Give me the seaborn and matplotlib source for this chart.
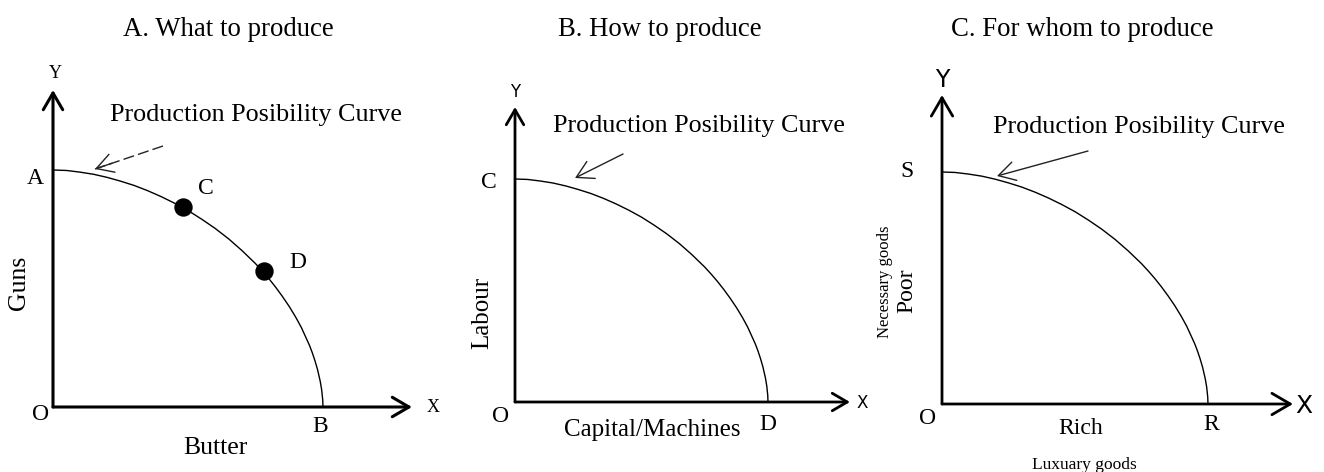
import matplotlib
matplotlib.use("Agg")
import matplotlib.pyplot as plt
import seaborn as sns
import pandas as pd

# ---------------- data (normalised PPC) ----------------
ppc_x = [0.0, 0.05, 0.10, 0.15, 0.20, 0.25, 0.30, 0.35, 0.40, 0.45, 0.50,
         0.55, 0.60, 0.65, 0.70, 0.75, 0.775, 0.80, 0.825, 0.85, 0.875, 0.90,
         0.92, 0.95, 0.96, 0.97, 0.98, 0.99, 0.995, 0.999, 1.0]
ppc_y = [1.0, 0.998, 0.991, 0.982, 0.969, 0.953, 0.935, 0.913, 0.888, 0.860, 0.829,
         0.793, 0.754, 0.710, 0.660, 0.605, 0.574, 0.541, 0.505, 0.466, 0.424, 0.377,
         0.335, 0.260, 0.230, 0.196, 0.157, 0.107, 0.073, 0.030, 0.0]
point_x = [0.48, 0.78]
point_y = [0.844, 0.574]
point_labels = ["C", "D"]

titles = ["A. What to produce", "B. How to produce", "C. For whom to produce"]
curve_label = "Production Posibility Curve"

sns.set_style("white")
plt.rcParams["font.family"] = ["Liberation Serif", "DejaVu Serif"]
plt.rcParams["text.color"] = "black"

W, H = 1324, 472
fig = plt.figure(figsize=(W / 100, H / 100), dpi=100)
fig.patch.set_facecolor("white")


def fx(x):
    return x / W


def fy(y):
    return 1 - y / H


def ftext(x, y, s, size, **kw):
    fig.text(fx(x), fy(y), s, fontsize=size, ha="center", va="center",
             color="black", **kw)


def make_panel(ox, oy, x_end, y_top, x_int, y_int, axis_lw, head):
    ax = fig.add_axes([fx(ox), 1 - oy / H, (x_end - ox) / W, (oy - y_top) / H])
    ax.set_xlim(0, (x_end - ox) / (x_int - ox))
    ax.set_ylim(0, (oy - y_top) / (oy - y_int))
    ax.axis("off")
    df = pd.DataFrame({"x": ppc_x, "y": ppc_y})
    sns.lineplot(data=df, x="x", y="y", ax=ax, sort=False, estimator=None,
                 color="black", linewidth=1.0)
    for xy in [(1, 0), (0, 1)]:
        ax.annotate("", xy=xy, xytext=(0, 0), xycoords="axes fraction",
                    textcoords="axes fraction",
                    arrowprops=dict(arrowstyle="->,head_length=0.6,head_width=0.35",
                                    lw=axis_lw, color="black", shrinkA=0, shrinkB=0,
                                    mutation_scale=head))
    return ax


def pointer(x0, y0, x1, y1, dashed=False):
    if dashed:
        fig.add_artist(matplotlib.lines.Line2D(
            [fx(x0), fx(x1)], [fy(y0), fy(y1)], transform=fig.transFigure,
            lw=1.0, color="#222222", linestyle=(0, (8, 3))))
        dx, dy = x0 - x1, y0 - y1
        x0, y0 = x1 + 0.25 * dx, y1 + 0.25 * dy
    fig.add_artist(matplotlib.patches.FancyArrowPatch(
        (fx(x0), fy(y0)), (fx(x1), fy(y1)), transform=fig.transFigure,
        arrowstyle="->,head_length=0.7,head_width=0.4", mutation_scale=17,
        lw=1.0, color="#222222", shrinkA=0, shrinkB=0))


# ---------------- Panel A ----------------
axA = make_panel(53, 407, 412, 90, 323, 170, 2.2, 20)
sns.scatterplot(x=point_x, y=point_y, ax=axA, color="black", s=150,
                edgecolor="black", zorder=5, legend=False)
ftext(228, 30, titles[0], 19.3)
ftext(256, 115, curve_label, 18.8)
pointer(163, 146, 95, 169, dashed=True)
ftext(55, 73, "Y", 13)
ftext(433, 408, "X", 13)
ftext(35, 178, "A", 17)
ftext(206, 188, point_labels[0], 17)
ftext(298, 262, point_labels[1], 17)
ftext(41, 415, "O", 17)
ftext(320, 427, "B", 17)
ftext(215, 448, "Butter", 18.5)
ftext(19, 283, "Guns", 18.5, rotation=90)

# ---------------- Panel B ----------------
axB = make_panel(515, 402, 850, 107, 768, 179, 2.0, 18)
ftext(660, 30, titles[1], 19.3)
ftext(699, 126, curve_label, 18.8)
pointer(623, 154, 575, 178)
ftext(515, 92, "Y", 12, family="DejaVu Sans")
ftext(862, 403, "X", 12, family="DejaVu Sans")
ftext(489, 183, "C", 17)
ftext(501, 417, "O", 17)
ftext(768, 425, "D", 17)
ftext(652, 430, "Capital/Machines", 18)
ftext(482, 313, "Labour", 18, rotation=90)

# ---------------- Panel C ----------------
axC = make_panel(942, 404, 1293, 95, 1208, 172, 2.0, 22)
ftext(1082, 30, titles[2], 19.3)
ftext(1139, 127, curve_label, 18.8)
pointer(1088, 151, 997, 176)
ftext(942, 80, "Y", 17, family="DejaVu Sans")
ftext(1304, 406, "X", 18, family="DejaVu Sans")
ftext(907, 172, "S", 17)
ftext(928, 418, "O", 17)
ftext(1211, 424, "R", 17)
ftext(1081, 428, "Rich", 17)
ftext(1084, 465, "Luxuary goods", 12.5)
ftext(907, 291, "Poor", 17, rotation=90)
ftext(885, 282, "Necessary goods", 12, rotation=90)

fig.savefig("out.png", dpi=100, facecolor="white")
